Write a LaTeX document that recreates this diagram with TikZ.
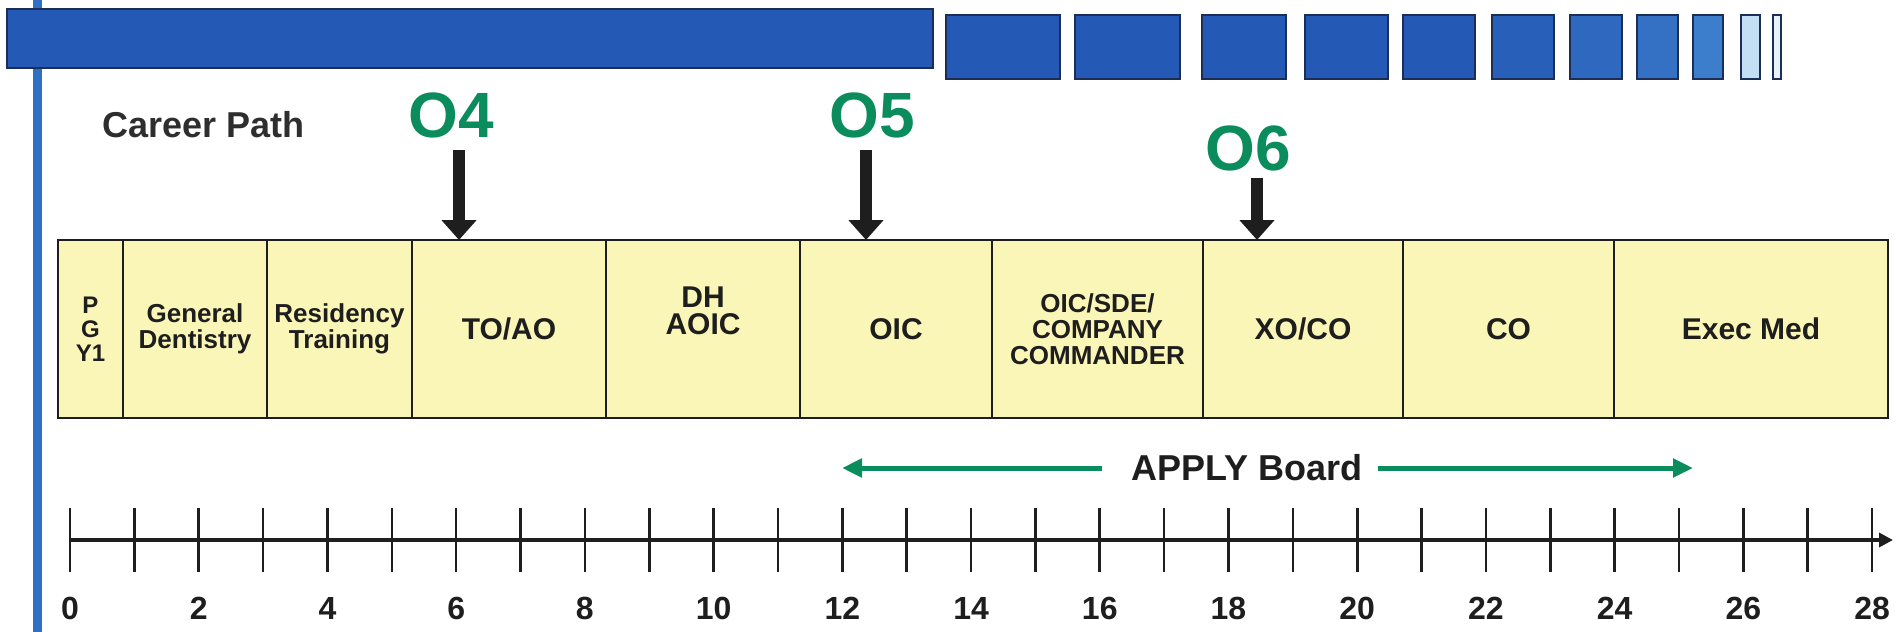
\documentclass[tikz,border=0pt]{standalone}
\usepackage{fontspec}
\setmainfont{Liberation Sans}
\usetikzlibrary{arrows.meta,positioning}
\definecolor{BarBlue}{HTML}{2459B6}
\definecolor{MidBlue}{HTML}{3D7ECC}
\definecolor{PaleBlue}{HTML}{C4DFF3}
\definecolor{EdgeBlue}{HTML}{1B2E55}
\definecolor{LineBlue}{HTML}{2F6FC4}
\definecolor{RankGreen}{HTML}{0B8C5C}
\definecolor{BoxYellow}{HTML}{FAF6B8}
\definecolor{Ink}{HTML}{1E1E1E}
\definecolor{Graphite}{HTML}{2E2E2E}

\begin{document}
\begin{tikzpicture}[x=.5pt,y=-.5pt,
    stage/.style={draw=Ink,line width=1.3pt,fill=BoxYellow,inner sep=0pt,outer sep=0pt,
      minimum height=89pt,align=center,text=Ink,font=\bfseries\fontsize{15}{13.5}\selectfont},
    smalltext/.style={font=\bfseries\fontsize{13}{13}\selectfont},
    rank/.style={text=RankGreen,inner sep=0pt,font=\bfseries\fontsize{32}{32}\selectfont},
    rankarrow/.style={Ink,line width=6pt,-{Triangle[width=17pt,length=10pt]}},
    applyarrow/.style={RankGreen,line width=2.5pt,-{Triangle[width=9pt,length=10pt]}},
    block/.style={draw=EdgeBlue,line width=.8pt}]
  \useasboundingbox (0,0) rectangle (1896,632);

  % header bar
  \draw[LineBlue,line width=4.5pt](37,0)--(37,632);
  \draw[block,fill=BarBlue](7,9)rectangle(933,68);
  \foreach \l/\r/\c in {946/1060/BarBlue,1075/1180/BarBlue,1202/1286/BarBlue,1305/1388/BarBlue,
      1403/1475/BarBlue,1492/1554/BarBlue!85!MidBlue,1570/1622/BarBlue!60!MidBlue,
      1637/1678/BarBlue!35!MidBlue,1693/1723/MidBlue,1741/1760/PaleBlue,1773/1781/PaleBlue!40!white}
    \draw[block,fill=\c](\l,15)rectangle(\r,79);

  \node[anchor=base west,text=Graphite,inner sep=0pt,font=\bfseries\fontsize{18}{18}\selectfont] (career) at (102,137) {Career Path};
  \node[rank,anchor=base] (o4) at (451,137) {O4};
  \node[rank,anchor=base] (o5) at (872,137) {O5};
  \node[rank,anchor=base] (o6) at (1248,170) {O6};

  % stages
  \node[stage,anchor=west,minimum width=32.5pt,text width=24.5pt,font=\bfseries\fontsize{12}{12}\selectfont] (pgy) at (58,329) {P\\G\\Y1};
  \node[stage,smalltext,minimum width=72pt,right=0pt of pgy] (gd) {General\\Dentistry};
  \node[stage,smalltext,minimum width=72.5pt,right=0pt of gd] (res) {Residency\\Training};
  \node[stage,minimum width=97pt,right=0pt of res] (toao) {TO/AO};
  \node[stage,minimum width=97pt,text depth=18pt,right=0pt of toao] (dh) {DH\\AOIC};
  \node[stage,minimum width=96pt,right=0pt of dh] (oic) {OIC};
  \node[stage,smalltext,minimum width=105.5pt,right=0pt of oic] (sde) {OIC/SDE/\\COMPANY\\COMMANDER};
  \node[stage,minimum width=100pt,right=0pt of sde] (xoco) {XO/CO};
  \node[stage,minimum width=105.5pt,right=0pt of xoco] (co) {CO};
  \node[stage,minimum width=137pt,right=0pt of co] (exec) {Exec Med};

  \coordinate (o4tail) at (459,150);
  \coordinate (o5tail) at (866,150);
  \coordinate (o6tail) at (1257,178);
  \draw[rankarrow](o4tail)--(o4tail|-toao.north);
  \draw[rankarrow](o5tail)--(o5tail|-oic.north);
  \draw[rankarrow](o6tail)--(o6tail|-xoco.north);

  % board window
  \node[text=Ink,inner sep=0pt,font=\bfseries\fontsize{18}{18}\selectfont] (apply) at (1247,468) {APPLY Board};
  \coordinate (applyL) at (842,468);
  \coordinate (applyR) at (1693,468);
  \draw[applyarrow]([xshift=-14.5pt]apply.west)--(applyL);
  \draw[applyarrow]([xshift=7.5pt]apply.east)--(applyR);

  % years
  \coordinate (axisL) at (70,540);
  \coordinate (axisR) at (1893,540);
  \draw[Ink,line width=2.2pt,-{Triangle[width=7pt,length=7pt]}](axisL)--(axisR);
  \foreach \i in {0,...,28}
    \draw[Ink,line width=1.3pt]({70+64.36*\i},508)--({70+64.36*\i},572);
  \foreach \i in {0,2,...,28}
    \node[anchor=base,text=Ink,inner sep=0pt,font=\bfseries\fontsize{16}{16}\selectfont] (yr\i) at ({70+64.36*\i},619) {\i};
\end{tikzpicture}
\end{document}
